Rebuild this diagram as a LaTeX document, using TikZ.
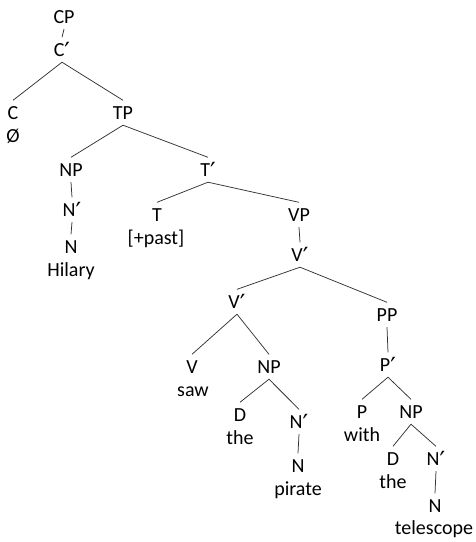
\documentclass[tikz,border=0pt]{standalone}
\usepackage{fontspec}
\setmainfont{Carlito}
\newfontfamily\primefont{DejaVu Sans}
\newcommand\pr{{\primefont\fontsize{25}{27}\selectfont\raisebox{-4pt}{′}}}
\begin{document}
\begin{tikzpicture}[x=1pt,y=-1pt,
  cat/.style={anchor=base,text height=12.5pt,text depth=0pt,inner xsep=1pt,inner ysep=6pt,font=\fontsize{20}{22}\selectfont},
  word/.style={anchor=base,inner sep=0pt,font=\fontsize{20}{22}\selectfont},
  edge/.style={draw=black!80,line width=0.75pt}]
\useasboundingbox (0,0) rectangle (475,542);
\node[cat] (cp) at (64,23) {CP};
\node[cat] (cb) at (62,56) {C\pr};
\node[cat] (c) at (13,119) {C};
\node[word] (cw) at (13,142) {Ø};
\node[cat] (tp) at (123,119) {TP};
\node[cat] (np1) at (71,176) {NP};
\node[cat] (nb1) at (72,216) {N\pr};
\node[cat] (n1) at (71,253) {N};
\node[word] (hil) at (71,276) {Hilary};
\node[cat] (tb) at (208,176) {T\pr};
\node[cat] (t) at (157,221) {T};
\node[word] (past) at (156,244) {[+past]};
\node[cat] (vp) at (299,221) {VP};
\node[cat] (vb1) at (300,261) {V\pr};
\node[cat] (vb2) at (237,308) {V\pr};
\node[cat] (v) at (192,373) {V};
\node[word] (saw) at (193,396) {saw};
\node[cat] (np2) at (269,373) {NP};
\node[cat] (d1) at (240,421) {D};
\node[word] (the1) at (240,444) {the};
\node[cat] (nb2) at (299,428) {N\pr};
\node[cat] (n2) at (298,472) {N};
\node[word] (pir) at (298,495) {pirate};
\node[cat] (pp) at (387,321) {PP};
\node[cat] (pb) at (388,371) {P\pr};
\node[cat] (p) at (362,418) {P};
\node[word] (with) at (362,441) {with};
\node[cat] (np3) at (411,418) {NP};
\node[cat] (d2) at (393,465) {D};
\node[word] (the2) at (393,488) {the};
\node[cat] (nb3) at (436,465) {N\pr};
\node[cat] (n3) at (435,512) {N};
\node[word] (tel) at (434,534) {telescope};
\foreach \a/\b in {cp/cb,cb/c,cb/tp,tp/np1,tp/tb,np1/nb1,nb1/n1,tb/t,tb/vp,vp/vb1,vb1/vb2,vb1/pp,vb2/v,vb2/np2,np2/d1,np2/nb2,nb2/n2,pp/pb,pb/p,pb/np3,np3/d2,np3/nb3,nb3/n3}
  \draw[edge] (\a.south) -- (\b.north);
\end{tikzpicture}
\end{document}
